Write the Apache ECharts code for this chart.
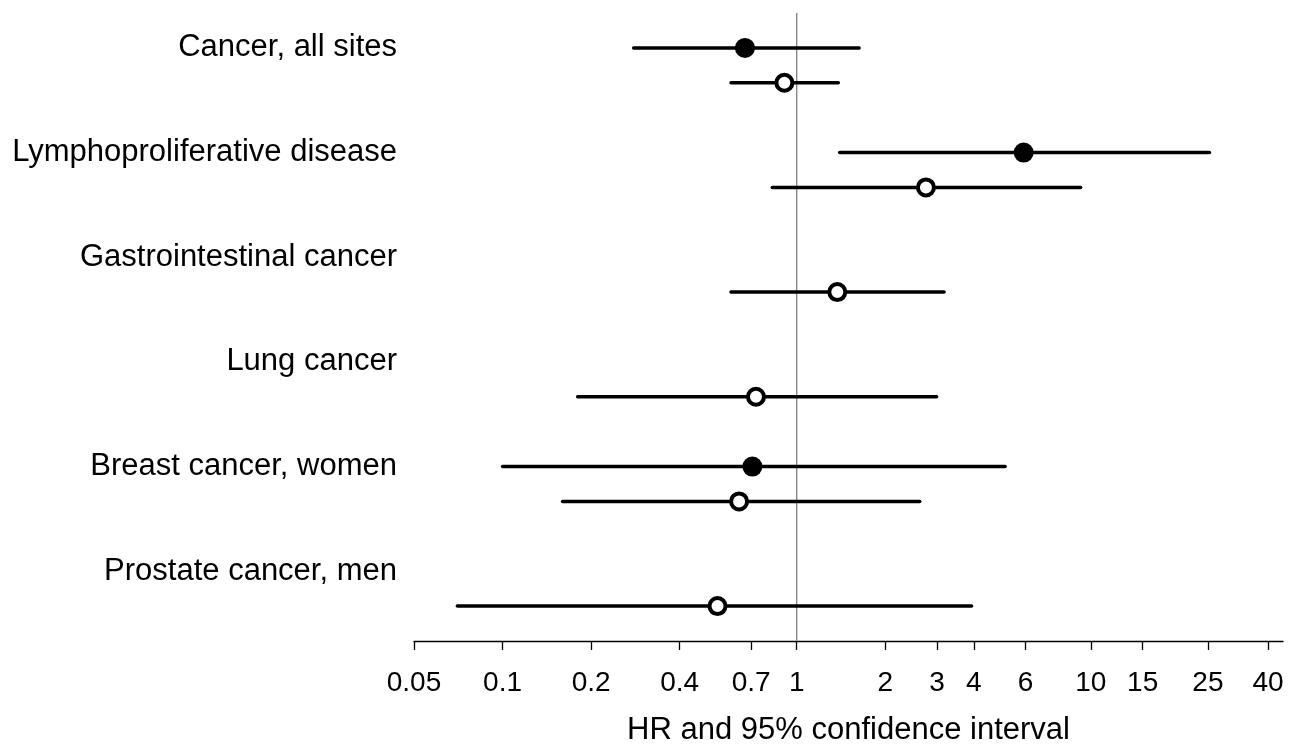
<!DOCTYPE html>
<html>
<head>
<meta charset="utf-8">
<script src="https://cdn.jsdelivr.net/npm/echarts@6/dist/echarts.min.js"></script>
<style>html,body{margin:0;padding:0;background:#fff;}#c{width:1290px;height:748px;}</style>
</head>
<body>
<div id="c"></div>
<script>
// Categories (one group of rows per outcome)
const groups = ["Cancer, all sites", "Lymphoproliferative disease", "Gastrointestinal cancer", "Lung cancer", "Breast cancer, women", "Prostate cancer, men"];
// Filled markers: HR, lower CI, upper CI (null when absent)
const filledHR = [0.667, 5.91, null, null, 0.707, null];
const filledLo = [0.279, 1.40, null, null, 0.100, null];
const filledHi = [1.63, 25.3, null, null, 5.11, null];
// Open markers: HR, lower CI, upper CI
const openHR = [0.908, 2.75, 1.374, 0.727, 0.637, 0.538];
const openLo = [0.598, 0.826, 0.598, 0.180, 0.160, 0.0702];
const openHi = [1.385, 9.23, 3.17, 2.99, 2.62, 3.93];
// Axis tick labels
const xTicks = [0.05, 0.1, 0.2, 0.4, 0.7, 1, 2, 3, 4, 6, 10, 15, 25, 40];
const refValue = 1;

const FONT = "'Liberation Sans', Arial, sans-serif";

// row positions: filled at 3*g, open at 3*g+1
const ciRows = [];
const filledPts = [];
const openPts = [];
groups.forEach((g, i) => {
  if (filledHR[i] != null) {
    ciRows.push([filledLo[i], filledHi[i], 3 * i]);
    filledPts.push([filledHR[i], 3 * i]);
  }
  if (openHR[i] != null) {
    ciRows.push([openLo[i], openHi[i], 3 * i + 1]);
    openPts.push([openHR[i], 3 * i + 1]);
  }
});

const chart = echarts.init(document.getElementById('c'));
chart.setOption({
  animation: false,
  backgroundColor: '#fff',
  grid: { left: 414, right: 7, top: 13, bottom: 107, containLabel: false, outerBoundsMode: 'none' },
  xAxis: {
    type: 'log',
    logBase: 10,
    min: 0.05,
    max: 45,
    name: 'HR and 95% confidence interval',
    nameLocation: 'middle',
    nameGap: 74,
    nameTextStyle: { fontSize: 31, color: '#000', fontFamily: FONT, verticalAlign: 'top' },
    axisLine: { show: true, onZero: false, lineStyle: { color: '#000', width: 1.3 } },
    axisTick: { show: true, length: 9, lineStyle: { color: '#000', width: 1.3 }, customValues: xTicks },
    axisLabel: { fontSize: 28, color: '#000', fontFamily: FONT, margin: 28, customValues: xTicks,
      formatter: v => String(v) },
    splitLine: { show: false },
    minorTick: { show: false }
  },
  yAxis: {
    type: 'value',
    inverse: true,
    min: -1,
    max: 17,
    interval: 1,
    axisLine: { show: false },
    axisTick: { show: false },
    splitLine: { show: false },
    axisLabel: {
      fontSize: 31, color: '#000', fontFamily: FONT, margin: 17,
      formatter: v => (v >= 0 && v % 3 === 0 && v / 3 < groups.length) ? groups[v / 3] : ''
    }
  },
  series: [
    {
      type: 'line',
      data: [[refValue, -1], [refValue, 17]],
      symbol: 'none',
      lineStyle: { color: '#808080', width: 1.3 },
      z: 1
    },
    {
      type: 'custom',
      data: ciRows,
      renderItem: (params, api) => {
        const p1 = api.coord([api.value(0), api.value(2)]);
        const p2 = api.coord([api.value(1), api.value(2)]);
        return {
          type: 'line',
          shape: { x1: p1[0], y1: p1[1], x2: p2[0], y2: p2[1] },
          style: { stroke: '#000', lineWidth: 3.5, lineCap: 'round' }
        };
      },
      encode: { x: [0, 1], y: 2 },
      z: 2
    },
    {
      type: 'scatter',
      data: filledPts,
      symbol: 'circle',
      symbolSize: 20,
      itemStyle: { color: '#000', opacity: 1 },
      z: 3
    },
    {
      type: 'scatter',
      data: openPts,
      symbol: 'circle',
      symbolSize: 16,
      itemStyle: { color: '#fff', borderColor: '#000', borderWidth: 4, opacity: 1 },
      z: 3
    }
  ]
});
</script>
</body>
</html>
